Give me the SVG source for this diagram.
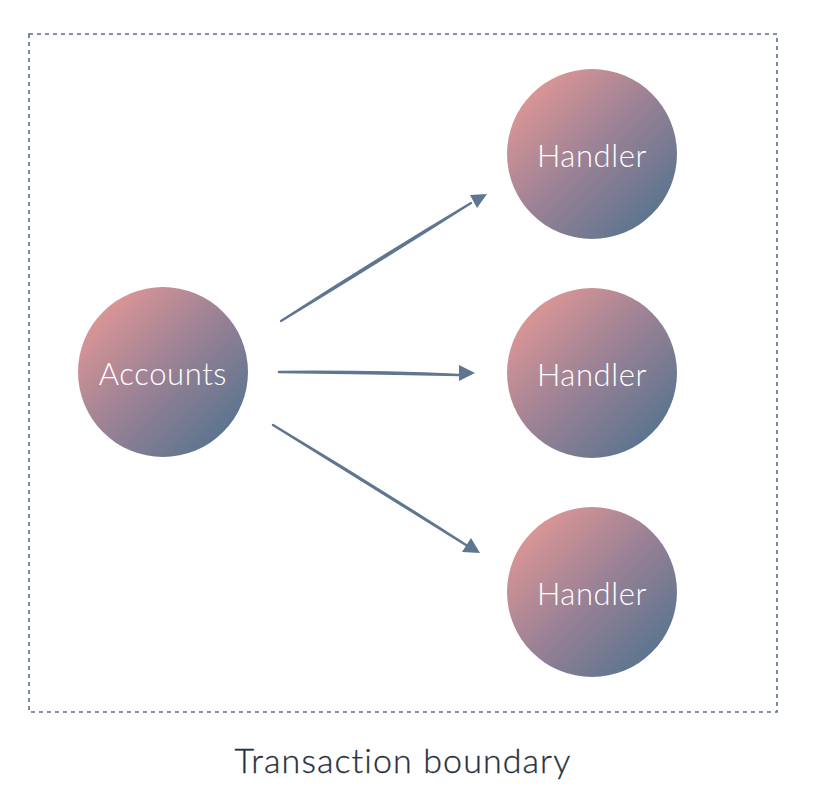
<svg xmlns="http://www.w3.org/2000/svg" width="816" height="810" viewBox="0 0 816 810">
<style>
.lbl{font-family:"Lato","Open Sans",sans-serif;font-weight:300;fill:#fff;font-size:31px;text-anchor:middle;letter-spacing:0.6px}
.cap{font-family:"Lato","Open Sans",sans-serif;font-weight:300;fill:#28303c;font-size:34px;text-anchor:middle;letter-spacing:1.1px;stroke:#28303c;stroke-width:0.3}
.node{fill:url(#g)}
.ln{fill:#5f7690}
</style>
<defs>
<linearGradient id="g" x1="0.15" y1="0.15" x2="0.85" y2="0.85">
<stop offset="0" stop-color="#d89595"/>
<stop offset="0.5" stop-color="#9a8195"/>
<stop offset="1" stop-color="#5e758f"/>
</linearGradient>
</defs>
<rect x="29" y="34" width="748" height="678" fill="none" stroke="#5a6f87" stroke-width="1.6" stroke-dasharray="4 4"/>
<g id="connectors">
<path class="ln" d="M281,321 Q372,266 471,203 Q372,262 281,321 Z" stroke="#5f7690" stroke-width="2.2" stroke-linejoin="round"/>
<polygon class="ln" points="470,195 487,194 477,208"/>
<path class="ln" d="M279,372 Q370,373 459,375 Q370,371 279,372 Z" stroke="#5f7690" stroke-width="2.6" stroke-linejoin="round"/>
<polygon class="ln" points="459,365 475,373 459,381"/>
<path class="ln" d="M273,425 Q370,485 466,545 Q370,483 273,425 Z" stroke="#5f7690" stroke-width="2.4" stroke-linejoin="round"/>
<polygon class="ln" points="471,538 462,552 480,553"/>
</g>
<g id="accounts">
<circle class="node" cx="163" cy="372" r="85"/>
<text class="lbl" x="163" y="385">Accounts</text>
</g>
<g id="handler1">
<circle class="node" cx="592" cy="154" r="85"/>
<text class="lbl" x="592" y="167">Handler</text>
</g>
<g id="handler2">
<circle class="node" cx="592" cy="373" r="85"/>
<text class="lbl" x="592" y="386">Handler</text>
</g>
<g id="handler3">
<circle class="node" cx="592" cy="592" r="85"/>
<text class="lbl" x="592" y="605">Handler</text>
</g>
<text class="cap" x="403" y="773">Transaction boundary</text>
</svg>
